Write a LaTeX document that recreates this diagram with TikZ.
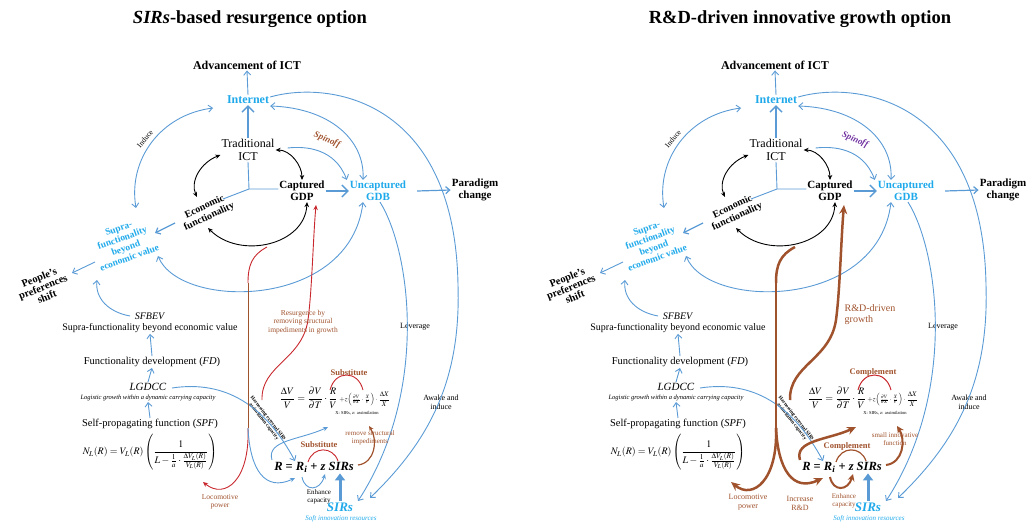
\documentclass[tikz,border=0pt]{standalone}
\usepackage{amsmath}
\usepackage{mathptmx}
\usepackage{fontspec}
\setmainfont{Liberation Serif}
\usetikzlibrary{arrows.meta}
\definecolor{lblue}{HTML}{5B9BD5}
\definecolor{tblue}{HTML}{1FA9EA}
\definecolor{brn}{HTML}{A0522D}
\definecolor{rd}{HTML}{C8282D}
\definecolor{prp}{HTML}{7030A0}
\newcommand{\fsz}[2]{\fontsize{#1}{#2}\selectfont}
\newcommand{\panelbase}{%
 \node[txt,font=\bfseries\fsz{12}{14}] (adv) at (247,65) {Advancement of ICT};
 \node[txt,font=\bfseries\fsz{12}{14},text=tblue] (int) at (248,100) {Internet};
 \node[txt,font=\fsz{12}{13}] (trad) at (248,150) {Traditional\\ICT};
 \node[txt,font=\bfseries\fsz{11}{12}] (cap) at (302,191) {Captured\\GDP};
 \node[txt,font=\bfseries\fsz{11}{12},text=tblue] (unc) at (378,191) {Uncaptured\\GDB};
 \node[txt,font=\bfseries\fsz{11}{12}] (par) at (475,190) {Paradigm\\change};
 \node[txt,font=\bfseries\fsz{10}{11},rotate=25] (eco) at (207,212) {Economic\\functionality};
 \node[txt,font=\bfseries\fsz{9.5}{10.5},text=tblue,rotate=20] (sup) at (124,243) {Supra-\\functionality\\beyond\\economic value};
 \node[txt,font=\bfseries\fsz{10.5}{10.5},rotate=22] (ppl) at (43,287) {People's\\preferences\\shift};
 \node[txt,font=\fsz{7.5}{8},rotate=50] (ind) at (145,139) {Induce};
 \node[txt,font=\fsz{10}{10.5}] (sfb) at (150,323) {\textit{SFBEV}\\Supra-functionality beyond economic value};
 \node[txt,font=\fsz{10.5}{12}] (fd) at (152,362) {Functionality development (\textit{FD})};
 \node[txt,font=\fsz{11}{9}] (lg) at (148,392) {\textit{LGDCC}\\{\fsz{6.5}{7}\itshape Logistic growth within a dynamic carrying capacity}};
 \node[txt,font=\fsz{10.5}{12}] (spf) at (150,424) {Self-propagating function (\textit{SPF})};
 \node[txt,font=\fsz{10}{12}] (eqN) at (150,452) {$N_L(R)=V_L(R)\left(\dfrac{1}{L-\frac{1}{a}\cdot\frac{\Delta V_L(R)}{V_L(R)}}\right)$};
 \node[txt,font=\fsz{10}{12}] (eqV) at (335,398) {$\dfrac{\Delta V}{V}=\dfrac{\partial V}{\partial T}\cdot\dfrac{R}{V}$\,{\fsz{7}{8}$+z\Bigl(\frac{\partial V}{\partial X}\cdot\frac{X}{V}\Bigr)\cdot\dfrac{\Delta X}{X}$}};
 \node[txt,font=\fsz{4.5}{5}] (zt) at (357,413) {X: SIRs, z: assimilation};
 \node[txt,font=\bfseries\itshape\fsz{12.5}{14}] (eqR) at (314,467) {R {\upshape =} R\textsubscript{i} {\upshape +} z SIRs};
 \node[txt,font=\bfseries\itshape\fsz{13}{14},text=tblue] (sirs) at (340,507) {SIRs};
 \node[txt,font=\itshape\fsz{7}{8},text=tblue] (soft) at (341,519) {Soft innovation resources};
 \node[txt,font=\fsz{8}{9}] (lev) at (415,327) {Leverage};
 \node[txt,font=\fsz{8}{9}] (awk) at (441,402) {Awake and\\induce};
 \node[txt,font=\bfseries\fsz{5}{5.5},rotate=-52] (att) at (266,420) {Harnessing external SIRs\\assimilation capacity};
 \coordinate (O) at (249,189);
 \coordinate (axE) at (223,199);
 \coordinate (vtop) at (248,283);
 \coordinate (vbot) at (248,428);
 \coordinate (arcB) at (267,247);
 \coordinate (ecoT) at (197,197);
 \coordinate (ecoB) at (208,228);
 \coordinate (indS) at (136,208);
 \coordinate (indE) at (213,108);
 \coordinate (ecoA) at (175,223);
 \coordinate (supA) at (155,233);
 \coordinate (supB) at (95,262);
 \coordinate (pplA) at (72,273);
 \coordinate (supC) at (158,256);
 \coordinate (sfbA) at (130,316);
 \coordinate (supD) at (97,280);
 \coordinate (lgR) at (172,388);
 \coordinate (rR) at (295,461);
 \coordinate (awkE) at (370,498);
 \coordinate (levE) at (358,501);
 % connectors
 \draw[bl,barb] (int.north) -- (adv.south);
 \draw[draw=lblue,line width=1.8pt,bigbarb] (trad.north) -- (int.south);
 \draw[bl] (trad.south) -- (O) -- (cap.west |- O);
 \draw[bl] (O) -- (axE);
 \draw[bk] (trad.east) .. controls (290,150) and (302,165) .. (cap.north);
 \draw[bk] ([yshift=-5pt]trad.west) .. controls (200,163) and (190,182) .. (ecoT);
 \draw[bk] ([xshift=5pt]cap.south) .. controls (305,245) and (240,260) .. (ecoB);
 \draw[draw=lblue,line width=1.8pt,bigbarb] (cap.east) -- (unc.west);
 \draw[bl,barb,line width=1.2pt] ([xshift=10pt]unc.east) -- (par.west);
 \draw[bl,dbarb] ([yshift=-6pt]int.east) .. controls (330,108) and (365,140) .. ([xshift=-15pt]unc.north);
 \draw[bl,barb] ([xshift=12pt,yshift=2pt]trad.east) .. controls (305,146) and (335,148) .. ([xshift=-2pt]unc.north west);
 \draw[bl,barb] ([yshift=3pt]int.east) .. controls (330,80) and (455,100) .. (458,285) .. controls (461,380) and (430,440) .. (awkE);
 \draw[bl,barb] ([xshift=2pt]unc.south) .. controls (410,250) and (430,390) .. (levE);
 \draw[bl,dbarb] (indS) .. controls (128,160) and (160,115) .. (indE);
 \draw[bl,barb,line width=1.2pt] (ecoA) -- (supA);
 \draw[bl,barb] (supB) -- (pplA);
 \draw[bl,dbarb] (supC) .. controls (180,310) and (350,310) .. ([xshift=-15pt]unc.south);
 \draw[bl,barb] (sfbA) .. controls (108,312) and (95,298) .. (supD);
 \draw[bl,barb] (fd.north) -- (sfb.south);
 \draw[bl,barb] (lg.north) -- (fd.south);
 \draw[bl,barb] (spf.north) -- (lg.south);
 \draw[bl,barb] (lgR) .. controls (225,380) and (265,405) .. (rR);
 \draw[draw=lblue,line width=3pt,-{Triangle[length=7pt,width=10pt]}] (sirs.north) -- (sirs.north |- eqR.south);
 \draw[enhS] (302,477) .. controls (305,492) and (320,491) .. (325,474);
 \draw[subAS] (308,462) .. controls (313,446) and (333,446) .. (338,461);
 \draw[subBS] (330,390) .. controls (335,370) and (358,370) .. (363,390);
 \draw[sirzS] (358,465) .. controls (375,463) and (378,440) .. (369,426);
 \draw[rrvS] (272,460) .. controls (266,440) and (300,440) .. (328,427);
 \draw[locoS] (vbot) .. controls (250,480) and (225,500) .. (203,482);
 \draw[incS] (vbot) .. controls (250,470) and (265,492) .. (295,478);
 \draw[vtopS] (arcB) .. controls (252,255) and (248,265) .. (vtop);
 \draw[vertS] (vtop) -- (vbot);
 \draw[growS] (262,400) .. controls (261,365) and (302,360) .. (308,320) .. controls (312,290) and (313,240) .. (316,205);
}
\begin{document}
\begin{tikzpicture}[x=1pt,y=-1pt,
  txt/.style={inner sep=1pt, align=center},
  bl/.style={draw=lblue, line width=0.9pt},
  barb/.style={-{Straight Barb[length=4pt,width=7pt]}},
  dbarb/.style={{Straight Barb[length=4pt,width=7pt]}-{Straight Barb[length=4pt,width=7pt]}},
  bigbarb/.style={-{Straight Barb[length=6pt,width=12pt,line width=1.4pt]}},
  bk/.style={draw=black, line width=0.9pt, {Stealth[length=5pt,width=4.5pt]}-{Stealth[length=5pt,width=4.5pt]}},
  stl/.style={-{Stealth[length=5pt,width=4.5pt]}},
  bstl/.style={-{Stealth[length=9pt,width=8pt]}},
  lab/.style={inner sep=1pt, align=center, text=brn}]
\useasboundingbox (0,0) rectangle (1031,532);
\node[txt,font=\bfseries\fsz{18.5}{20}] (tL) at (250,19) {\textit{SIRs}-based resurgence option};
\node[txt,font=\bfseries\fsz{18.5}{20}] (tR) at (800,19) {R\&D-driven innovative growth option};
% left panel
\begin{scope}[name prefix=L-,
  enhS/.style={bl,stl},
  subAS/.style={draw=rd,line width=0.9pt},
  subBS/.style={draw=rd,line width=0.9pt},
  sirzS/.style={draw=brn,line width=1.2pt,stl},
  rrvS/.style={bl,stl},
  locoS/.style={draw=rd,line width=0.9pt,stl},
  incS/.style={bl,stl},
  vtopS/.style={draw=rd,line width=0.9pt},
  vertS/.style={draw=brn,line width=0.9pt},
  growS/.style={draw=rd,line width=0.9pt,stl}]
 \panelbase
 \node[lab,font=\bfseries\itshape\fsz{9}{10},rotate=-22] (spin) at (327,140) {Spinoff};
 \node[lab,font=\fsz{7.5}{8.5}] (res) at (303,322) {Resurgence by\\removing structural\\impediments in growth};
 \node[lab,font=\bfseries\fsz{8.5}{9}] (subA) at (319,445) {Substitute};
 \node[lab,font=\bfseries\fsz{8.5}{9}] (subB) at (349,373) {Substitute};
 \node[lab,font=\fsz{7}{7.5}] (rem) at (370,438) {remove structural\\impediments};
 \node[lab,font=\fsz{7.5}{8.5}] (loc) at (220,502) {Locomotive\\power};
 \node[txt,font=\fsz{7}{7.5}] (enh) at (319,497) {Enhance\\capacity};
\end{scope}
% right panel
\begin{scope}[xshift=528pt,name prefix=R-,
  enhS/.style={draw=brn,line width=2pt,-{Stealth[length=7pt,width=7pt]}},
  subAS/.style={draw=brn,line width=1.2pt},
  subBS/.style={draw=rd,line width=1pt},
  sirzS/.style={draw=brn,line width=2pt,-{Stealth[length=7pt,width=7pt]}},
  rrvS/.style={draw=brn,line width=2.5pt,bstl},
  locoS/.style={draw=brn,line width=2.5pt,bstl},
  incS/.style={draw=brn,line width=2.5pt,bstl},
  vtopS/.style={draw=brn,line width=2.5pt},
  vertS/.style={draw=brn,line width=2.5pt},
  growS/.style={draw=brn,line width=2.5pt,bstl}]
 \panelbase
 \node[lab,text=prp,font=\bfseries\itshape\fsz{9}{10},rotate=-22] (spin) at (327,140) {Spinoff};
 \node[lab,font=\fsz{10}{11},align=left] (grw) at (342,315) {R\&D-driven\\growth};
 \node[lab,font=\bfseries\fsz{8.5}{9}] (subA) at (319,446) {Complement};
 \node[lab,font=\bfseries\fsz{8.5}{9}] (subB) at (345,372) {Complement};
 \node[lab,font=\fsz{7}{7.5}] (rem) at (367,439) {small innovative\\function};
 \node[lab,font=\fsz{8}{9}] (loc) at (220,502) {Locomotive\\power};
 \node[lab,font=\fsz{8}{9}] (inc) at (272,503) {Increase\\R\&D};
 \node[lab,font=\fsz{7}{7.5}] (enh) at (316,501) {Enhance\\capacity};
\end{scope}
\end{tikzpicture}
\end{document}
